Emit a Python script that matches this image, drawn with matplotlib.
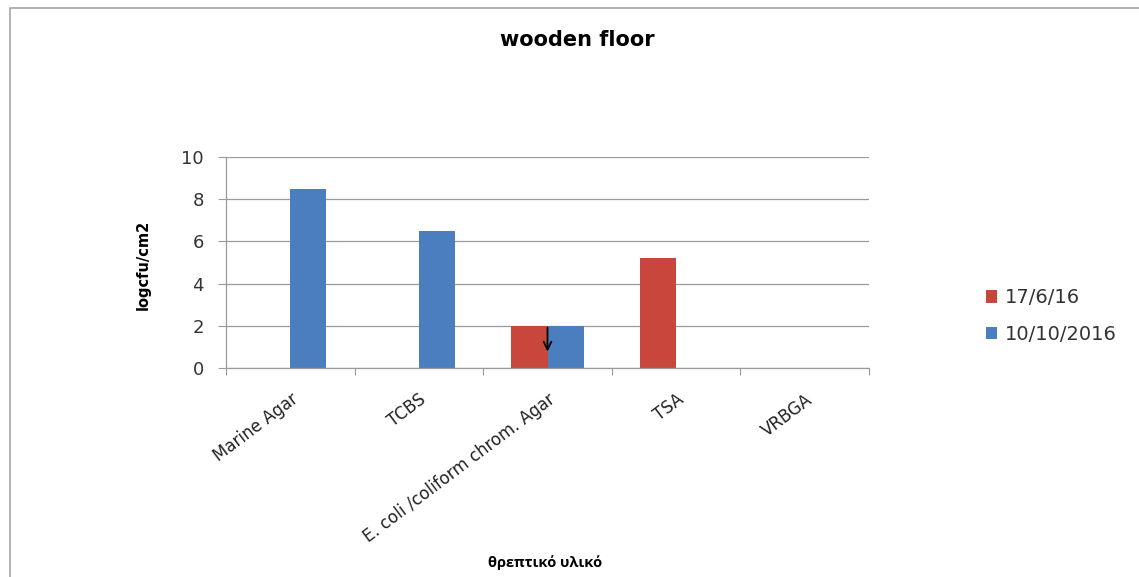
import numpy as np
import matplotlib.pyplot as plt
from matplotlib.patches import Rectangle

plt.rcParams["font.family"] = ["DejaVu Sans"]

categories = ["Marine Agar", "TCBS", "E. coli /coliform chrom. Agar", "TSA", "VRBGA"]
series_names = ["17/6/16", "10/10/2016"]
vals_jun = [np.nan, np.nan, 2.0, 5.2, np.nan]
vals_oct = [8.5, 6.5, 2.0, np.nan, np.nan]
y_ticks = [0, 2, 4, 6, 8, 10]

RED = "#c9463d"
BLUE = "#4a7ebf"
GRID = "#9a9a9a"
TXT = "#333333"

W, H = 1139, 577
fig = plt.figure(figsize=(W / 100, H / 100), dpi=100)

# outer chart frame, cut by the image edge on the right and bottom
fig.patches.append(Rectangle((10 / W, -0.05), 1.2, 1 - 8 / H + 0.05,
                             transform=fig.transFigure, fill=False,
                             edgecolor="#a6a6a6", linewidth=1.2))

ax = fig.add_axes([226 / W, 1 - 368 / H, (869 - 226) / W, (368 - 157) / H])

x = np.arange(len(categories))
bw = 0.28
ax.bar(x - bw / 2, vals_jun, bw, color=RED, label=series_names[0], zorder=2)
ax.bar(x + bw / 2, vals_oct, bw, color=BLUE, label=series_names[1], zorder=2)

# downward arrow on the E. coli pair
ax.annotate("", xy=(2, 0.65), xytext=(2, 2.05),
            arrowprops=dict(arrowstyle="->", color="black", lw=1.3,
                            mutation_scale=14), zorder=3)

ax.set_xlim(-0.5, len(categories) - 0.5)
ax.set_ylim(0, 10)
ax.set_yticks(y_ticks)
ax.yaxis.grid(True, color=GRID, linewidth=0.9, zorder=0)
ax.set_axisbelow(True)

for side in ["top", "right"]:
    ax.spines[side].set_visible(False)
for side in ["left", "bottom"]:
    ax.spines[side].set_color(GRID)
    ax.spines[side].set_linewidth(0.9)

# category boundaries get the tick marks, labels sit on the centres
ax.set_xticks(np.arange(len(categories) + 1) - 0.5)
ax.set_xticklabels([])
ax.set_xticks(x, minor=True)
ax.set_xticklabels(categories, minor=True, rotation=37, ha="right",
                   va="top", rotation_mode="anchor", fontsize=12,
                   color="#222222")
ax.tick_params(axis="x", which="minor", length=0, pad=16)
ax.tick_params(axis="x", which="major", length=5, color=GRID, direction="out")
ax.tick_params(axis="y", length=6, color=GRID, labelsize=13,
               labelcolor=TXT, pad=10)

ax.set_ylabel("logcfu/cm2", fontsize=10.5, fontweight="bold")
ax.yaxis.set_label_coords((151 - 226) / (869 - 226), (368 - 265) / (368 - 157))
fig.text(545 / W, 1 - 563 / H, "θρεπτικό υλικό", ha="center", va="center",
         fontsize=10.5, fontweight="bold", family=["Open Sans", "DejaVu Sans"])
fig.text(577 / W, 1 - 40 / H, "wooden floor", ha="center", va="center",
         fontsize=15, fontweight="bold")

ax.legend(loc="center left", bbox_to_anchor=(968 / W, 1 - 316 / H),
          bbox_transform=fig.transFigure, frameon=False, fontsize=14,
          handlelength=0.6, handleheight=0.6, handletextpad=0.4,
          labelspacing=0.9, labelcolor=TXT)

fig.savefig("out.png", dpi=100)
